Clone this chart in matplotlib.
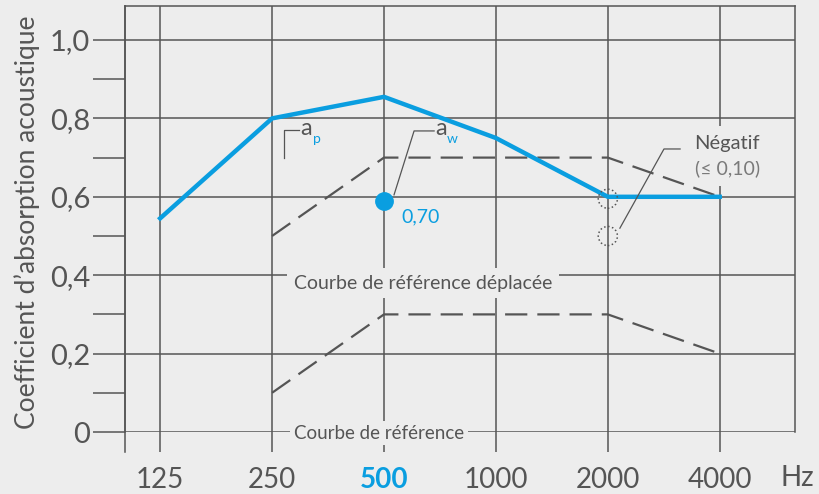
import numpy as np
import matplotlib.pyplot as plt

# data
freqs = ["125", "250", "500", "1000", "2000", "4000"]
alpha_p = [0.545, 0.80, 0.855, 0.75, 0.60, 0.60]
ref_shift_x = [1, 2, 3, 4, 5]
ref_shift = [0.50, 0.70, 0.70, 0.70, 0.60]
ref_x = [1, 2, 3, 4, 5]
ref = [0.10, 0.30, 0.30, 0.30, 0.20]
alpha_w = 0.59
y_major = [0, 0.2, 0.4, 0.6, 0.8, 1.0]
y_major_labels = ["0", "0,2", "0,4", "0,6", "0,8", "1,0"]
y_minor = [0.1, 0.3, 0.5, 0.7, 0.9]
neg_x = [4, 4]
neg_y = [0.595, 0.50]

BG = "#ededed"
GRID = "#555555"
TXT = "#555555"
BLUE = "#0a9ee0"

plt.rcParams['font.family'] = ['Lato', 'DejaVu Sans']

W, H = 820, 494
fig = plt.figure(figsize=(W / 100, H / 100), dpi=100, facecolor=BG)
# box: x 125..795 px, y 6..432 px (432 = value 0)
ax = fig.add_axes([125 / W, (H - 432) / H, 670 / W, 426 / H], facecolor=BG)

x = np.arange(len(freqs))
ax.set_xlim(-35 / 111.5, 5 + 75 / 111.5)
ax.set_ylim(0, 426 / 392)

for s in ["left", "top", "right"]:
    ax.spines[s].set_color(GRID)
    ax.spines[s].set_linewidth(1.1)
ax.spines["bottom"].set_visible(False)

ax.set_yticks(y_major)
ax.set_yticklabels(y_major_labels, fontsize=21, color=TXT)
ax.set_yticks(y_minor, minor=True)
ax.tick_params(axis="y", which="both", direction="out", length=23, width=1.1,
               color=GRID, pad=2)
ax.set_xticks(x)
ax.set_xticklabels(freqs, fontsize=20, color=TXT)
ax.tick_params(axis="x", direction="out", length=14.5, width=1.1, color=GRID, pad=11)
lab = ax.get_xticklabels()[2]
lab.set_color(BLUE)
lab.set_fontweight("bold")
ax.grid(True, color=GRID, linewidth=1.1)
ax.set_axisbelow(True)
# left edge goes down like the ticks
ax.axvline(ax.get_xlim()[0], ymin=-20 / 426, ymax=1, color=GRID, lw=1.1, clip_on=False)

ax.text(5.69, -0.118, "Hz", fontsize=20, color=TXT, ha="center", va="center",
        clip_on=False)

fig.text(27 / W, 1 - 222 / H, "Coefficient d\u2019absorption acoustique",
         rotation=90, fontsize=19, color=TXT, ha="center", va="center")

# curves
ax.plot(ref_shift_x, ref_shift, color=GRID, lw=1.6, dashes=(10, 4.5), zorder=3)
ax.plot(ref_x, ref, color=GRID, lw=1.6, dashes=(10, 4.5), zorder=3)
ax.plot(x, alpha_p, color=BLUE, lw=3.2, zorder=4, solid_joinstyle="round")
ax.plot([2], [alpha_w], "o", color=BLUE, ms=12.5, zorder=6)
ax.scatter(neg_x, neg_y, s=190, facecolors="none", edgecolors=GRID,
           linestyles=":", linewidths=1.1, zorder=6)

# labels with background masks
ax.text(1.193, 0.38, "Courbe de r\u00e9f\u00e9rence d\u00e9plac\u00e9e", fontsize=14,
        color=TXT, va="center", ha="left",
        bbox=dict(boxstyle="square,pad=0.35", facecolor=BG, edgecolor="none"),
        zorder=5)
ax.text(1.193, -0.003, "Courbe de r\u00e9f\u00e9rence", fontsize=13.5,
        color=TXT, va="center", ha="left",
        bbox=dict(boxstyle="square,pad=0.2", facecolor=BG, edgecolor="none"),
        zorder=5, clip_on=False)
ax.text(5.067, 0.737, "N\u00e9gatif", fontsize=14.5, color=TXT, ha="center",
        va="center", zorder=5.5,
        bbox=dict(boxstyle="square,pad=0.45", facecolor=BG, edgecolor="none"))
ax.text(5.067, 0.673, "(\u2264 0,10)", fontsize=14, color="#7a7a7a", ha="center",
        va="center", zorder=5,
        bbox=dict(boxstyle="square,pad=0.45", facecolor=BG, edgecolor="none"))
ax.text(2.152, 0.548, "0,70", fontsize=14, color=BLUE, ha="left", va="center",
        zorder=6)

# a_p and a_w annotations
ax.plot([1.103, 1.103, 1.238], [0.699, 0.770, 0.770], color=GRID, lw=0.9, zorder=5)
ax.text(1.256, 0.758, "a", fontsize=17, color=TXT, va="baseline", zorder=6)
ax.text(1.363, 0.737, "p", fontsize=10, color=BLUE, va="baseline", zorder=6)
ax.plot([2.448, 2.269, 2.090], [0.768, 0.768, 0.605], color=GRID, lw=0.9, zorder=5)
ax.text(2.457, 0.758, "a", fontsize=17, color=TXT, va="baseline", zorder=6)
ax.text(2.565, 0.737, "w", fontsize=10, color=BLUE, va="baseline", zorder=6)
ax.plot([4.646, 4.502, 4.108], [0.722, 0.722, 0.520], color=GRID, lw=0.9, zorder=6)

fig.savefig("out.png", dpi=100, facecolor=BG)
